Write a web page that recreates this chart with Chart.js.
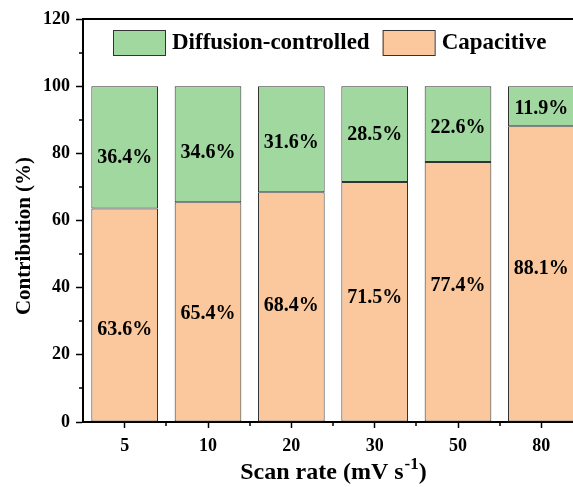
<!DOCTYPE html>
<html lang="en">
<head>
    <meta charset="UTF-8">
    <title>Contribution vs Scan rate</title>
    <script src="https://cdn.jsdelivr.net/npm/chart.js"></script>
    <style>
        html, body { margin: 0; padding: 0; background: #fff; overflow: hidden; }
        .wrap { width: 600px; height: 487px; }
        canvas { display: block; background: #fff; }
    </style>
</head>
<body>
<div class="wrap"><canvas id="contribChart" width="600" height="487"></canvas></div>

<script>
    // scan rates (mV/s) and contribution percentages
    const scanRates = ['5', '10', '20', '30', '50', '80'];
    const capacitive = [63.6, 65.4, 68.4, 71.5, 77.4, 88.1];
    const diffusion = [36.4, 34.6, 31.6, 28.5, 22.6, 11.9];
    const yTicks = [0, 20, 40, 60, 80, 100, 120];

    const FONT = "'Liberation Serif', 'Times New Roman', serif";
    const GREEN = 'rgb(160, 216, 160)';
    const ORANGE = 'rgb(250, 200, 156)';
    const EDGE = '#333';

    // percentages written inside each bar segment (small vertical nudges per label)
    const barLabels = {
        id: 'barLabels',
        afterDatasetsDraw(chart, args, opts) {
            const ctx = chart.ctx;
            ctx.save();
            ctx.font = `bold 20px ${FONT}`;
            ctx.fillStyle = '#000';
            ctx.textAlign = 'center';
            ctx.textBaseline = 'middle';
            chart.data.datasets.forEach((ds, di) => {
                const nudge = opts.nudge[di] || [];
                chart.getDatasetMeta(di).data.forEach((bar, i) => {
                    const cy = (bar.y + bar.base) / 2 + 1 + (nudge[i] || 0);
                    ctx.fillText(ds.data[i].toFixed(1) + '%', bar.x, cy);
                });
            });
            ctx.restore();
        }
    };

    // frame, minor ticks, legend and axis titles
    const decorations = {
        id: 'decorations',
        afterDraw(chart) {
            const ctx = chart.ctx;
            const area = chart.chartArea;
            const x = chart.scales.x;
            const y = chart.scales.y;
            ctx.save();
            ctx.strokeStyle = '#000';

            // top frame line
            ctx.lineWidth = 2;
            ctx.beginPath();
            ctx.moveTo(area.left - 1, area.top);
            ctx.lineTo(area.right, area.top);
            ctx.lineTo(area.right, area.bottom);
            ctx.stroke();

            // minor ticks
            ctx.lineWidth = 1.5;
            ctx.beginPath();
            for (let v = 10; v < 120; v += 20) {
                const py = Math.round(y.getPixelForValue(v));
                ctx.moveTo(area.left - 4, py);
                ctx.lineTo(area.left, py);
            }
            for (let i = 0; i < scanRates.length - 1; i++) {
                const px = Math.round((x.getPixelForValue(i) + x.getPixelForValue(i + 1)) / 2);
                ctx.moveTo(px, area.bottom);
                ctx.lineTo(px, area.bottom + 4);
            }
            ctx.stroke();

            // legend inside the plot, top row
            ctx.font = `bold 23px ${FONT}`;
            ctx.textBaseline = 'middle';
            ctx.textAlign = 'left';
            let lx = area.left + 30;
            const ly = area.top + 11;
            const items = chart.data.datasets.slice().reverse();
            items.forEach(ds => {
                ctx.fillStyle = ds.backgroundColor;
                ctx.fillRect(lx, ly, 52, 25);
                ctx.strokeStyle = EDGE;
                ctx.lineWidth = 1;
                ctx.strokeRect(lx + 0.5, ly + 0.5, 52, 25);
                ctx.fillStyle = '#000';
                ctx.fillText(ds.label, lx + 59, ly + 13);
                lx += 59 + ctx.measureText(ds.label).width + 13;
            });

            // x title with superscript
            const main = 'Scan rate (mV s';
            const sup = '-1';
            const tail = ')';
            ctx.textBaseline = 'alphabetic';
            ctx.font = `bold 24px ${FONT}`;
            const wMain = ctx.measureText(main).width;
            const wTail = ctx.measureText(tail).width;
            ctx.font = `bold 17px ${FONT}`;
            const wSup = ctx.measureText(sup).width;
            let tx = (area.left + area.right) / 2 - (wMain + wSup + wTail) / 2;
            const ty = 479;
            ctx.font = `bold 24px ${FONT}`;
            ctx.fillText(main, tx, ty);
            tx += wMain;
            ctx.font = `bold 17px ${FONT}`;
            ctx.fillText(sup, tx + 1, ty - 10);
            tx += wSup + 1;
            ctx.font = `bold 24px ${FONT}`;
            ctx.fillText(tail, tx, ty);

            // y title
            ctx.translate(25, 236);
            ctx.rotate(-Math.PI / 2);
            ctx.textAlign = 'center';
            ctx.textBaseline = 'middle';
            ctx.font = `bold 21px ${FONT}`;
            ctx.fillText('Contribution (%)', 0, 0);
            ctx.restore();
        }
    };

    new Chart(document.getElementById('contribChart'), {
        type: 'bar',
        data: {
            labels: scanRates,
            datasets: [
                {
                    label: 'Capacitive',
                    data: capacitive,
                    backgroundColor: ORANGE,
                    borderColor: EDGE,
                    borderWidth: 1,
                    borderSkipped: false
                },
                {
                    label: 'Diffusion-controlled',
                    data: diffusion,
                    backgroundColor: GREEN,
                    borderColor: EDGE,
                    borderWidth: 1,
                    borderSkipped: false
                }
            ]
        },
        options: {
            responsive: false,
            animation: false,
            barPercentage: 0.8,
            categoryPercentage: 1,
            layout: { padding: { left: 0, top: 19, right: 17, bottom: 0 } },
            plugins: {
                legend: { display: false },
                tooltip: { enabled: false },
                barLabels: {
                    nudge: [
                        [14, 1, -2, -5, -7, -6],
                        [10, 8, 3, 0, 3, 2]
                    ]
                }
            },
            scales: {
                x: {
                    stacked: true,
                    afterFit(scale) { scale.height = 65; },
                    border: { color: '#000', width: 2 },
                    grid: {
                        offset: false,
                        drawOnChartArea: false,
                        tickLength: 6,
                        tickColor: '#000',
                        tickWidth: 1.5
                    },
                    ticks: {
                        color: '#000',
                        padding: 8,
                        maxRotation: 0,
                        font: { family: FONT, size: 18, weight: 'bold' }
                    }
                },
                y: {
                    stacked: true,
                    min: 0,
                    max: 120,
                    afterFit(scale) { scale.width = 83; },
                    afterBuildTicks(scale) { scale.ticks = yTicks.map(v => ({ value: v })); },
                    border: { color: '#000', width: 2 },
                    grid: {
                        drawOnChartArea: false,
                        tickLength: 7,
                        tickColor: '#000',
                        tickWidth: 1.5
                    },
                    ticks: {
                        color: '#000',
                        padding: 6,
                        font: { family: FONT, size: 18, weight: 'bold' }
                    }
                }
            }
        },
        plugins: [barLabels, decorations]
    });
</script>
</body>
</html>
